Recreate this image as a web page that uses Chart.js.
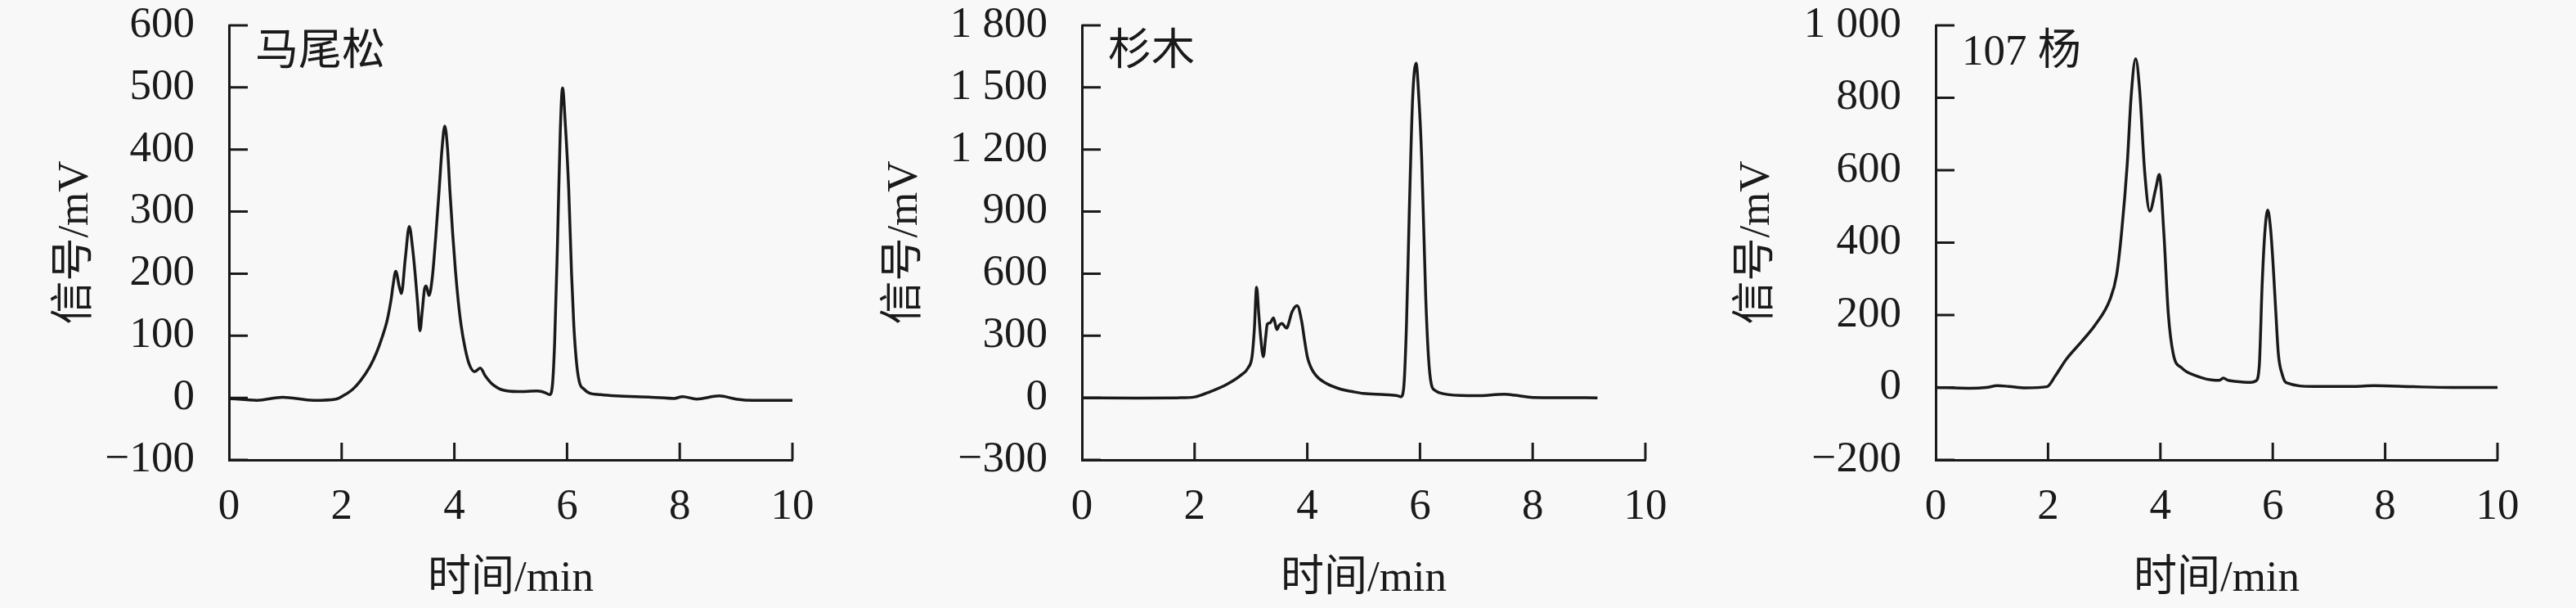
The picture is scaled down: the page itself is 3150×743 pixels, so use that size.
<!DOCTYPE html>
<html>
<head>
<meta charset="utf-8">
<script src="https://cdn.jsdelivr.net/npm/chart.js@4.4.1/dist/chart.umd.min.js"></script>
<style>
  body { margin: 0; background: #f8f8f8; }
  .painel { position: absolute; top: 0; width: 1050px; height: 743px; }
</style>
</head>
<body>
<div class="painel" style="left:0px"><canvas id="chartMaweisong" width="1050" height="743"></canvas></div>
<div class="painel" style="left:1050px"><canvas id="chartShanmu" width="1050" height="743"></canvas></div>
<div class="painel" style="left:2100px"><canvas id="chartYang" width="1050" height="743"></canvas></div>
<script>
//Dados lidos do cromatograma (tempo em min, sinal em mV)
//马尾松
const tempoMaweisong = [0, 0.5, 0.95, 1.5, 1.9, 2.04, 2.2, 2.33, 2.5, 2.62, 2.72, 2.81, 2.88, 2.91, 2.96, 3.02, 3.06, 3.13, 3.2, 3.26, 3.3, 3.35, 3.39, 3.43, 3.47, 3.5, 3.55, 3.61, 3.67, 3.73, 3.78, 3.83, 3.88, 3.92, 3.97, 4.02, 4.07, 4.12, 4.19, 4.26, 4.36, 4.46, 4.55, 4.65, 4.75, 4.84, 5.13, 5.47, 5.62, 5.69, 5.74, 5.78, 5.83, 5.88, 5.92, 5.97, 6.03, 6.08, 6.12, 6.17, 6.22, 6.3, 6.39, 6.6, 6.87, 7.5, 7.9, 8.05, 8.3, 8.7, 9.0, 9.3, 10];
const sinalMaweisong = [-1, -4, 1, -4, -2, 4, 14, 27, 50, 73, 98, 126, 160, 180, 204, 180, 168, 225, 276, 240, 204, 150, 108, 140, 175, 180, 165, 195, 260, 335, 400, 438, 400, 335, 265, 204, 155, 117, 80, 55, 42, 48, 35, 24, 17, 13, 10, 11, 8, 5, 20, 90, 248, 430, 499, 440, 335, 200, 117, 55, 25, 14, 8, 5, 3, 1, -1, 2, -2, 3, -2, -4, -4];

//杉木
const tempoShanmu = [0, 1.0, 1.7, 2.0, 2.28, 2.57, 2.81, 2.95, 3.02, 3.06, 3.1, 3.14, 3.17, 3.22, 3.26, 3.29, 3.34, 3.4, 3.46, 3.5, 3.55, 3.63, 3.73, 3.82, 3.9, 3.95, 4.0, 4.06, 4.12, 4.2, 4.31, 4.45, 4.6, 4.8, 4.99, 5.37, 5.6, 5.66, 5.71, 5.76, 5.81, 5.87, 5.93, 5.98, 6.03, 6.1, 6.15, 6.2, 6.27, 6.34, 6.73, 7.0, 7.5, 7.7, 8.0, 8.5, 9.15];
const sinalShanmu = [0, -1, 0, 4, 30, 65, 107, 145, 200, 330, 534, 400, 300, 199, 290, 356, 362, 386, 330, 350, 359, 337, 416, 445, 370, 280, 199, 150, 120, 95, 74, 55, 41, 30, 21, 15, 10, 5, 45, 350, 896, 1450, 1617, 1450, 1159, 501, 200, 67, 35, 25, 11, 10, 17, 12, 2, 1, 0];

//107 杨
const tempoYang = [0, 0.6, 0.9, 1.1, 1.3, 1.6, 1.98, 2.13, 2.32, 2.61, 2.85, 3.1, 3.22, 3.31, 3.41, 3.48, 3.56, 3.63, 3.72, 3.81, 3.92, 3.98, 4.06, 4.14, 4.23, 4.38, 4.64, 4.98, 5.05, 5.12, 5.2, 5.32, 5.61, 5.7, 5.76, 5.81, 5.86, 5.91, 5.96, 6.0, 6.05, 6.1, 6.17, 6.24, 6.72, 7.45, 7.8, 8.5, 9.2, 10];
const sinalYang = [0, -2, 0, 5, 3, -1, 2, 32, 77, 129, 175, 242, 310, 430, 618, 806, 908, 822, 596, 487, 551, 588, 430, 205, 92, 54, 32, 20, 20, 26, 20, 17, 14, 18, 60, 280, 430, 490, 440, 355, 220, 92, 35, 13, 3, 3, 5, 2, 0, 0];

//Eixos: [mínimo, máximo, passo]
const eixoX = [0, 10, 2];
const eixoYMaweisong = [-100, 600, 100];
const eixoYShanmu = [-300, 1800, 300];
const eixoYYang = [-200, 1000, 200];

const COR = '#1a1a1a';
const FONTE = "'Liberation Serif', 'Noto Sans CJK SC', serif";

//Formata rótulos do eixo Y (sinal de menos e separador de milhar com espaço)
function formatarValor(v) {
    let txt = String(Math.abs(v)).replace(/\B(?=(\d{3})+(?!\d))/g, ' ');
    return v < 0 ? '\u2212' + txt : txt;
}

//Marcas internas dos eixos e nome da amostra
const marcasInternas = {
    id: 'marcasInternas',
    afterDraw(chart, args, opts) {
        const ctx = chart.ctx;
        const area = chart.chartArea;
        const sx = chart.scales.x;
        const sy = chart.scales.y;
        ctx.save();
        ctx.strokeStyle = COR;
        ctx.lineWidth = 3;
        ctx.beginPath();
        sx.ticks.forEach(t => {
            if (t.value === sx.min) return;
            let px = sx.getPixelForValue(t.value);
            ctx.moveTo(px, area.bottom);
            ctx.lineTo(px, area.bottom - 21);
        });
        sy.ticks.forEach(t => {
            let py = sy.getPixelForValue(t.value);
            ctx.moveTo(area.left, py);
            ctx.lineTo(area.left + 23, py);
        });
        ctx.stroke();
        ctx.fillStyle = COR;
        ctx.font = '53px ' + FONTE;
        ctx.textAlign = 'left';
        ctx.textBaseline = 'middle';
        ctx.fillText(opts.texto, area.left + 32, area.top + 34);
        ctx.restore();
    }
};

//Gera um cromatograma
function criarGrafico(id, nome, tempos, sinais, eixoY, larguraY, margemDireita, recuoTitulo) {
    const pontos = tempos.map((t, i) => ({ x: t, y: sinais[i] }));
    return new Chart(document.getElementById(id), {
        type: 'line',
        data: {
            datasets: [{
                data: pontos,
                borderColor: COR,
                borderWidth: 3.5,
                pointRadius: 0,
                fill: false,
                cubicInterpolationMode: 'monotone'
            }]
        },
        options: {
            responsive: false,
            animation: false,
            devicePixelRatio: 1,
            layout: { padding: { top: 31, right: margemDireita, bottom: 0, left: 0 } },
            plugins: {
                legend: { display: false },
                tooltip: { enabled: false },
                marcasInternas: { texto: nome }
            },
            scales: {
                x: {
                    type: 'linear',
                    min: eixoX[0],
                    max: eixoX[1],
                    ticks: { stepSize: eixoX[2], color: COR, padding: 26, font: { family: FONTE, size: 53 } },
                    grid: { drawOnChartArea: false, drawTicks: false },
                    border: { display: true, color: COR, width: 3 },
                    title: { display: true, text: '时间/min', color: COR, padding: { top: 0, bottom: 3 }, font: { family: FONTE, size: 53 } },
                    afterFit: s => { s.height = 181; s.paddingLeft = 0; s.paddingRight = 0; }
                },
                y: {
                    min: eixoY[0],
                    max: eixoY[1],
                    ticks: { stepSize: eixoY[2], color: COR, padding: 42, font: { family: FONTE, size: 53 }, callback: v => formatarValor(v) },
                    grid: { drawOnChartArea: false, drawTicks: false },
                    border: { display: true, color: COR, width: 3 },
                    title: { display: true, text: '信号/mV', color: COR, padding: { top: recuoTitulo, bottom: 0 }, font: { family: FONTE, size: 53 } },
                    afterFit: s => { s.width = larguraY; s.paddingTop = 0; s.paddingBottom = 0; }
                }
            }
        },
        plugins: [marcasInternas]
    });
}

criarGrafico('chartMaweisong', '马尾松', tempoMaweisong, sinalMaweisong, eixoYMaweisong, 280, 81, 61);
criarGrafico('chartShanmu', '杉木', tempoShanmu, sinalShanmu, eixoYShanmu, 273, 88, 25);
criarGrafico('chartYang', '107 杨', tempoYang, sinalYang, eixoYYang, 267, 96, 17);
</script>
</body>
</html>
